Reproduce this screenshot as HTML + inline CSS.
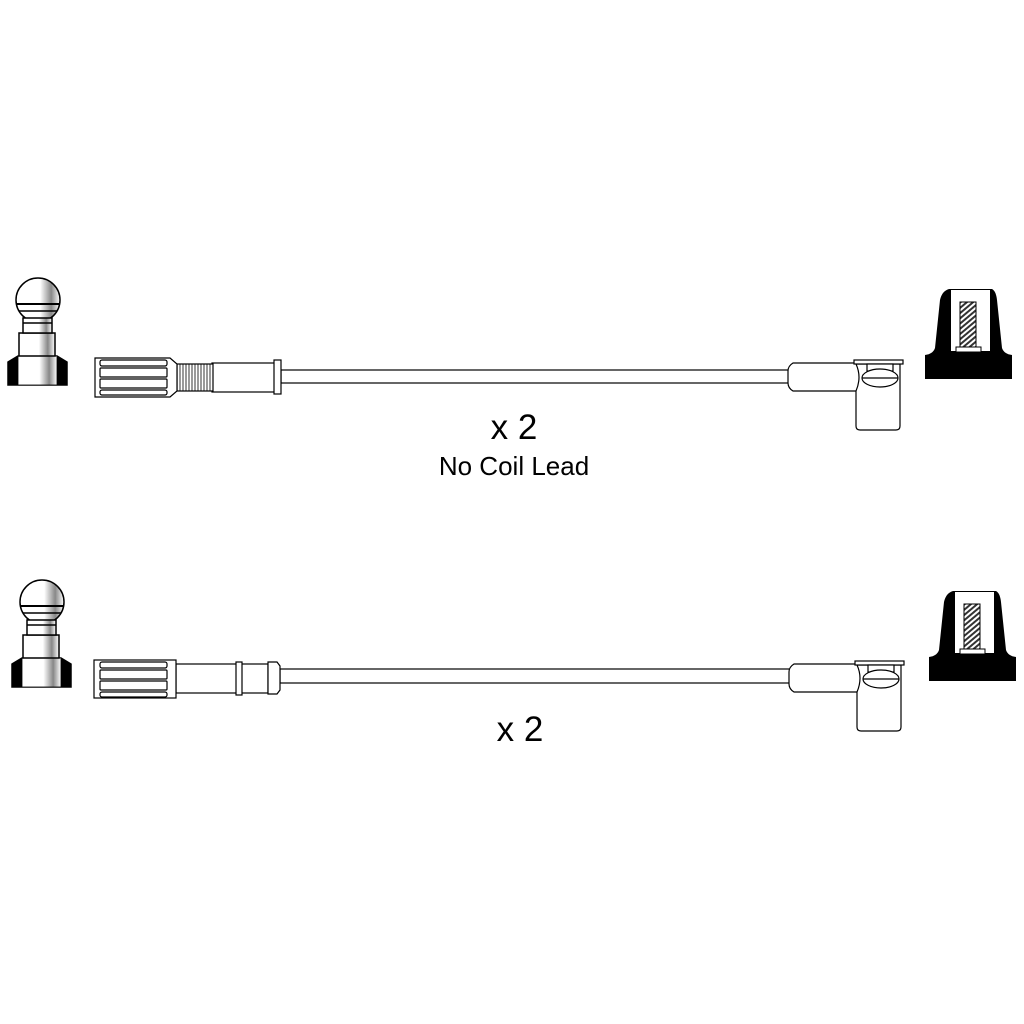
<!DOCTYPE html>
<html><head><style>body{margin:0;background:#fff}svg{display:block}</style></head>
<body>
<svg width="1024" height="1024" viewBox="0 0 1024 1024" xmlns="http://www.w3.org/2000/svg" font-family="Liberation Sans, Arial, sans-serif">
<defs>
<linearGradient id="g" x1="0" x2="1" y1="0" y2="0">
<stop offset="0" stop-color="#fff"/><stop offset="0.55" stop-color="#fff"/><stop offset="0.8" stop-color="#888"/><stop offset="1" stop-color="#fff"/>
</linearGradient>
<pattern id="h" width="4" height="4" patternUnits="userSpaceOnUse" patternTransform="rotate(-40)">
<rect width="4" height="4" fill="#fff"/><rect width="4" height="2" fill="#333"/>
</pattern>
<g id="plug" stroke="#000" stroke-width="1.5">
<path d="M8,362 L18,356 L57,356 L67,362 L67,385 L8,385 Z" fill="#000"/>
<rect x="18" y="356" width="39" height="29" fill="url(#g)" stroke-width="0.8"/>
<circle cx="38" cy="300" r="22" fill="url(#g)"/>
<line x1="16" y1="304" x2="60" y2="304" stroke-width="2"/>
<line x1="19" y1="311" x2="57" y2="311"/>
<rect x="19" y="333" width="36" height="23" fill="url(#g)"/>
<rect x="23" y="318" width="29" height="15" fill="url(#g)"/>
<line x1="23" y1="323" x2="52" y2="323"/>
</g>
<g id="rightEnd" stroke="#000" stroke-width="1.2" fill="#fff">
<path d="M793,363 L860,363 Q866,377 860,391 L793,391 Q788,388 788,383 L788,371 Q788,366 793,363 Z"/>
<path d="M856,364 L900,364 L900,426 Q900,430 896,430 L860,430 Q856,430 856,426 L856,391 Q862,377 856,364 Z"/>
<rect x="854" y="360" width="49" height="4"/>
<rect x="867" y="364" width="26" height="7"/>
<ellipse cx="880" cy="378" rx="18" ry="9"/>
<line x1="862" y1="378" x2="898" y2="378"/>
</g>
<g id="term">
<path d="M949,289 L992,289 Q996,291 997,300 L1002,348 Q1004,354 1012,355 L1012,379 L925,379 L925,355 Q933,354 935,348 L940,300 Q942,291 949,289 Z" fill="#000"/>
<rect x="951" y="290" width="39" height="61" fill="#fff"/>
<rect x="960" y="302" width="16" height="45" fill="url(#h)" stroke="#000" stroke-width="1"/>
<rect x="956" y="347" width="25" height="5" fill="#fff" stroke="#000" stroke-width="1"/>
</g>
</defs>

<use href="#plug"/>
<use href="#plug" transform="translate(4,302)"/>

<g stroke="#000" stroke-width="1.2" fill="#fff">
<rect x="281" y="370" width="510" height="13"/>
<rect x="212" y="363" width="63" height="29"/>
<rect x="274" y="360" width="7" height="34"/>
<rect x="177" y="364" width="36" height="27"/>
<g stroke-width="0.8">
<line x1="180" y1="364" x2="180" y2="391"/><line x1="183" y1="364" x2="183" y2="391"/><line x1="186" y1="364" x2="186" y2="391"/><line x1="189" y1="364" x2="189" y2="391"/><line x1="192" y1="364" x2="192" y2="391"/><line x1="195" y1="364" x2="195" y2="391"/><line x1="198" y1="364" x2="198" y2="391"/><line x1="201" y1="364" x2="201" y2="391"/><line x1="204" y1="364" x2="204" y2="391"/><line x1="207" y1="364" x2="207" y2="391"/><line x1="210" y1="364" x2="210" y2="391"/>
</g>
<path d="M95,358 L170,358 L177,364 L177,391 L170,397 L95,397 Z"/>
<rect x="100" y="360" width="67" height="6" rx="2"/>
<rect x="100" y="368" width="67" height="9" rx="1"/>
<rect x="100" y="379" width="67" height="9" rx="1"/>
<rect x="100" y="390" width="67" height="5" rx="2"/>
</g>

<g stroke="#000" stroke-width="1.2" fill="#fff">
<rect x="280" y="669" width="512" height="14"/>
<rect x="176" y="664" width="92" height="29"/>
<rect x="236" y="662" width="6" height="33"/>
<path d="M268,662 L277,662 L280,666 L280,690 L277,694 L268,694 Z"/>
<rect x="94" y="660" width="82" height="38"/>
<rect x="100" y="662" width="67" height="6" rx="2"/>
<rect x="100" y="670" width="67" height="9" rx="1"/>
<rect x="100" y="681" width="67" height="9" rx="1"/>
<rect x="100" y="692" width="67" height="5" rx="2"/>
</g>

<use href="#rightEnd"/>
<use href="#rightEnd" transform="translate(1,301)"/>
<use href="#term"/>
<use href="#term" transform="translate(4,302)"/>

<text x="514" y="439" font-size="35" text-anchor="middle">x 2</text>
<text x="514" y="475" font-size="26" text-anchor="middle">No Coil Lead</text>
<text x="520" y="741" font-size="35" text-anchor="middle">x 2</text>
</svg>
</body></html>
